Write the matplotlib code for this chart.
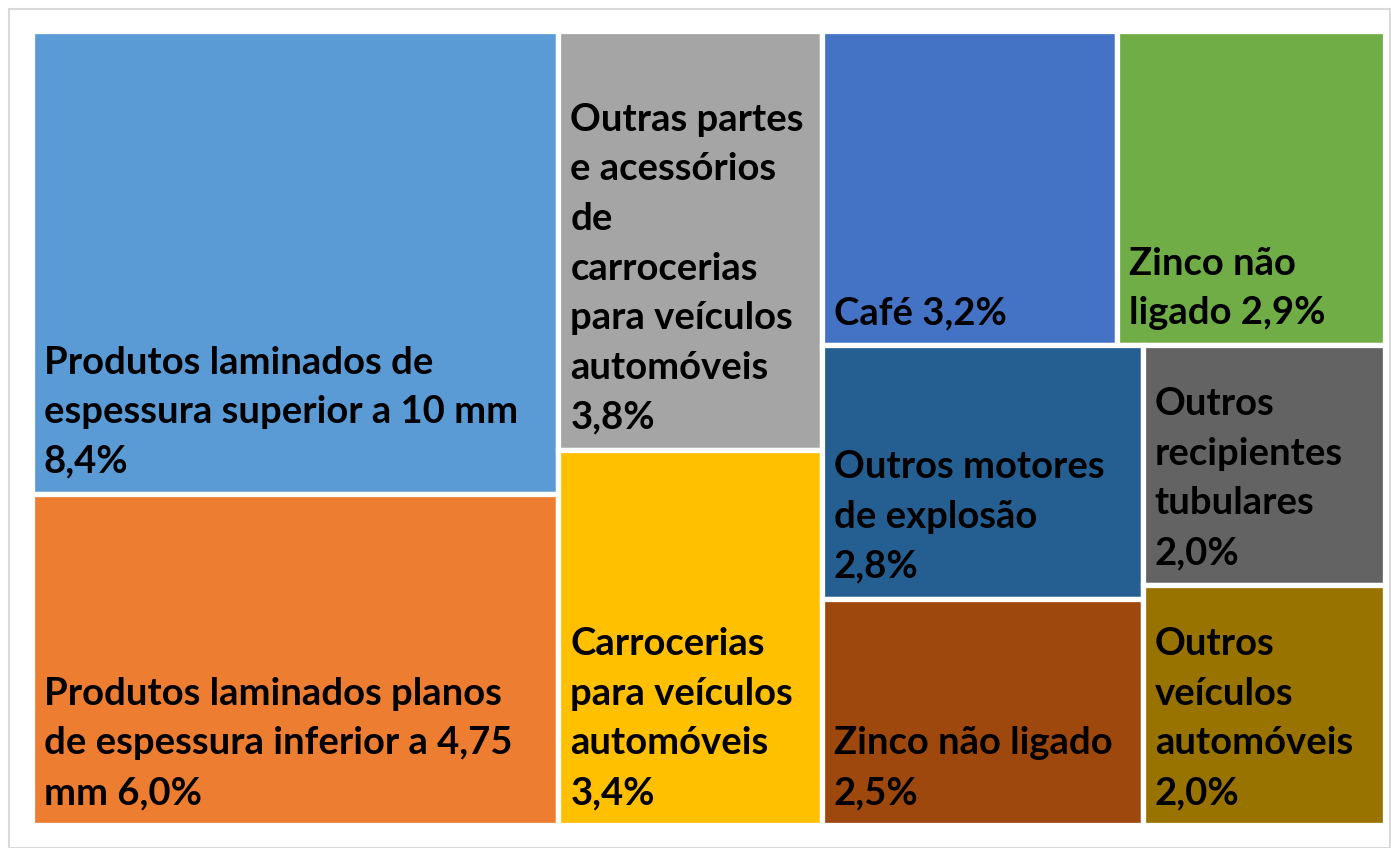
import matplotlib.pyplot as plt
from matplotlib.patches import Rectangle
from matplotlib.transforms import offset_copy

# -----------------------------
# Data
# -----------------------------
names = [
    "Produtos laminados de\nespessura superior a 10 mm",
    "Produtos laminados planos\nde espessura inferior a 4,75\nmm",
    "Outras partes\ne acessórios\nde\ncarrocerias\npara veículos\nautomóveis",
    "Carrocerias\npara veículos\nautomóveis",
    "Café",
    "Zinco não\nligado",
    "Outros motores\nde explosão",
    "Outros\nrecipientes\ntubulares",
    "Zinco não ligado",
    "Outros\nveículos\nautomóveis",
]
seps = ["\n", " ", "\n", "\n", " ", " ", "\n", "\n", "\n", "\n"]
shares = [8.4, 6.0, 3.8, 3.4, 3.2, 2.9, 2.8, 2.0, 2.5, 2.0]
colors = ["#5B9BD5", "#ED7D31", "#A5A5A5", "#FFC000", "#4472C4",
          "#70AD47", "#255E91", "#636363", "#9E480E", "#997300"]

# treemap grouping as Excel laid it out: ('h' = side by side, 'v' = stacked)
layout = ("h", [("v", [0, 1]),
                ("v", [2, 3]),
                ("v", [("h", [4, 5]),
                       ("h", [("v", [6, 8]), ("v", [7, 9])])])])


def total(node):
    if isinstance(node, int):
        return shares[node]
    return sum(total(c) for c in node[1])


def place(node, x, y, w, h, out):
    if isinstance(node, int):
        out[node] = (x, y, w, h)
        return
    direction, kids = node
    s = total(node)
    pos = 0.0
    for k in kids:
        frac = total(k) / s
        if direction == "h":
            place(k, x + pos * w, y, w * frac, h, out)
        else:
            place(k, x, y + pos * h, w, h * frac, out)
        pos += frac


T = total(layout)
rects = {}
place(layout, 0.0, 0.0, T, T, rects)

# -----------------------------
# Figure
# -----------------------------
W, H = 1391, 848
fig = plt.figure(figsize=(W / 100, H / 100), dpi=100)
fig.add_artist(Rectangle((8.5 / W, 0.5 / H), (1381 / W), (838.5 / H),
                         transform=fig.transFigure, facecolor="none",
                         edgecolor="#D9D9D9", linewidth=1.5))

x0, x1, y0, y1 = 31.5, 1385, 30.5, 825
ax = fig.add_axes([x0 / W, 1 - y1 / H, (x1 - x0) / W, (y1 - y0) / H])
ax.set_xlim(0, T)
ax.set_ylim(T, 0)
ax.axis("off")

for i, (x, y, w, h) in rects.items():
    ax.add_patch(Rectangle((x, y), w, h, facecolor=colors[i],
                           edgecolor="white", linewidth=3.8))
    label = names[i] + seps[i] + f"{shares[i]:.1f}%".replace(".", ",")
    tr = offset_copy(ax.transData, fig=fig, x=12, y=15, units="dots")
    ax.text(x, y + h, label, transform=tr, ha="left", va="bottom",
            fontsize=27.5, fontweight="bold", family="Lato",
            color="black", linespacing=1.56)

fig.savefig("out.png", dpi=100)
